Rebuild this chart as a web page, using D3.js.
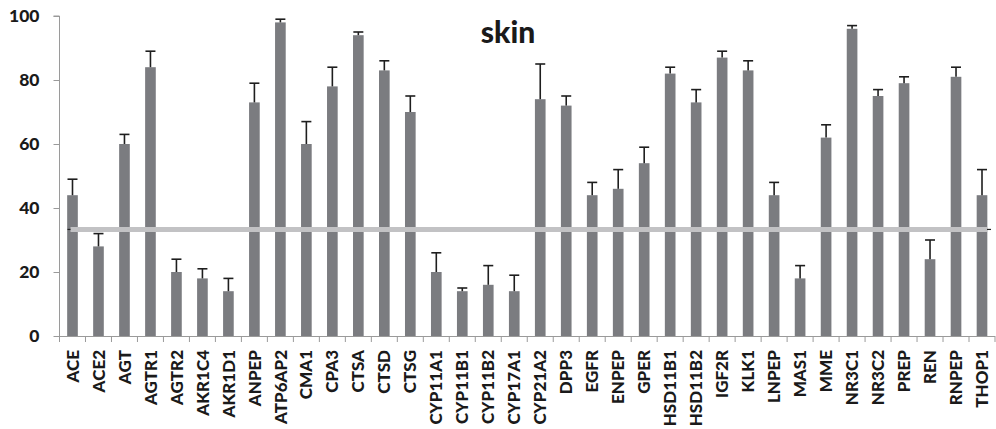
<!DOCTYPE html>
<html><head><meta charset="utf-8">
<script src="https://cdn.jsdelivr.net/npm/d3@7"></script>
<style>
html,body{margin:0;padding:0;background:#fff;}
svg{display:block;}
</style>
</head><body>
<svg id="chart" width="996" height="429"></svg>
<script>
const categories = ["ACE","ACE2","AGT","AGTR1","AGTR2","AKR1C4","AKR1D1","ANPEP","ATP6AP2","CMA1","CPA3","CTSA","CTSD","CTSG","CYP11A1","CYP11B1","CYP11B2","CYP17A1","CYP21A2","DPP3","EGFR","ENPEP","GPER","HSD11B1","HSD11B2","IGF2R","KLK1","LNPEP","MAS1","MME","NR3C1","NR3C2","PREP","REN","RNPEP","THOP1"];
const values = [44,28,60,84,20,18,14,73,98,60,78,94,83,70,20,14,16,14,74,72,44,46,54,82,73,87,83,44,18,62,96,75,79,24,81,44];
const errorTops = [49,32,63,89,24,21,18,79,99,67,84,95,86,75,26,15,22,19,85,75,48,52,59,84,77,89,86,48,22,66,97,77,81,30,84,52];
const thresholdValue = 33.3;
const yTicks = [0,20,40,60,80,100];
const title = "skin";

const svg = d3.select("#chart");
const mLeft = 59.5, mRight = 995, mTop = 16, mBottom = 336;
const font = "Lato, 'Open Sans', sans-serif";

const x = d3.scaleBand().domain(categories).range([mLeft, mRight]).padding(0);
const y = d3.scaleLinear().domain([0, 100]).range([mBottom, mTop]);
const barW = x.bandwidth() * 0.41;

// y axis
const yAxis = svg.append("g").attr("transform", `translate(${mLeft},0)`)
  .call(d3.axisLeft(y).tickValues(yTicks).tickSize(6).tickPadding(14).tickFormat(d3.format("d")));
yAxis.select(".domain").attr("stroke", "#9a9a9a").attr("d", `M-6,${y(100)}H0V${y(0)}`);
yAxis.selectAll(".tick line").attr("stroke", "#9a9a9a");
yAxis.selectAll(".tick text").attr("font-family", font).attr("font-weight", 900)
  .attr("font-size", 17.5).attr("fill", "#1a1a1a");

// x axis
const xAxis = svg.append("g").attr("transform", `translate(0,${mBottom})`)
  .call(d3.axisBottom(x).tickSize(0).tickPadding(0));
xAxis.select(".domain").attr("stroke", "#9a9a9a").attr("d", `M${mLeft},0.5H${mRight}`);
// boundary ticks
svg.append("g").selectAll("line").data(d3.range(categories.length + 1)).join("line")
  .attr("x1", i => mLeft + i * x.step()).attr("x2", i => mLeft + i * x.step())
  .attr("y1", mBottom).attr("y2", mBottom + 6).attr("stroke", "#9a9a9a");
xAxis.selectAll(".tick text")
  .attr("font-family", font).attr("font-weight", 900).attr("font-size", 17)
  .attr("fill", "#1a1a1a")
  .attr("text-anchor", "end")
  .attr("transform", "translate(0,14) rotate(-90)")
  .attr("dy", "0.36em").attr("x", 0).attr("y", 0);

// bars
svg.append("g").selectAll("rect").data(categories).join("rect")
  .attr("x", (d) => x(d) + x.bandwidth() / 2 - barW / 2)
  .attr("width", barW)
  .attr("y", (d, i) => y(values[i]))
  .attr("height", (d, i) => y(0) - y(values[i]))
  .attr("fill", "#7b7c80");

// error bars
const eg = svg.append("g").attr("stroke", "#1e1e1e").attr("stroke-width", 1.6);
categories.forEach((c, i) => {
  const cx = x(c) + x.bandwidth() / 2;
  eg.append("line").attr("x1", cx).attr("x2", cx).attr("y1", y(values[i])).attr("y2", y(errorTops[i]));
  eg.append("line").attr("x1", cx - 5).attr("x2", cx + 5).attr("y1", y(errorTops[i])).attr("y2", y(errorTops[i]));
});

// threshold line
const x0 = x(categories[0]) + x.bandwidth() / 2 - 2;
const x1 = x(categories[categories.length - 1]) + x.bandwidth() / 2 + 5;
svg.append("line").attr("x1", x0).attr("x2", x1)
  .attr("y1", y(thresholdValue)).attr("y2", y(thresholdValue))
  .attr("stroke", "#c2c2c4").attr("stroke-width", 5);
svg.append("line").attr("x1", x0 - 3).attr("x2", x0)
  .attr("y1", y(thresholdValue)).attr("y2", y(thresholdValue))
  .attr("stroke", "#222").attr("stroke-width", 1.2);
svg.append("line").attr("x1", x1).attr("x2", x1 + 4)
  .attr("y1", y(thresholdValue)).attr("y2", y(thresholdValue))
  .attr("stroke", "#222").attr("stroke-width", 1.2);

// title
svg.append("text").attr("x", 508).attr("y", 43).attr("text-anchor", "middle")
  .attr("font-family", font).attr("font-weight", 900).attr("font-size", 30)
  .attr("fill", "#1a1a1a").text(title);
</script>
</body></html>
